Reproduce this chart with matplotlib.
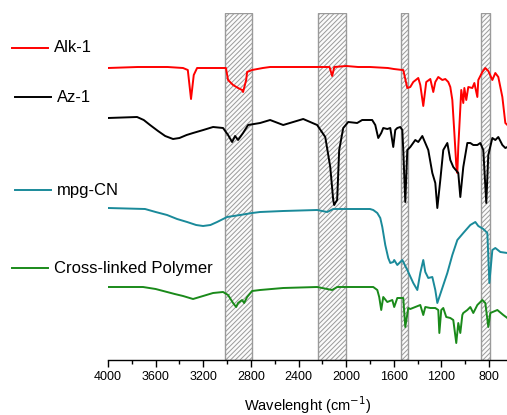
import matplotlib
matplotlib.use("Agg")
import matplotlib.pyplot as plt
from matplotlib.lines import Line2D
import numpy as np

plt.rcParams['font.family'] = ['Liberation Sans', 'DejaVu Sans']
plt.rcParams['hatch.linewidth'] = 0.7

# ---- data (wavenumber cm^-1, relative transmittance offset) ----
alk_w = [4000, 3750, 3500, 3370, 3330, 3303, 3280, 3252, 3100, 3010, 2992, 2950, 2908, 2874, 2866, 2840,
         2832, 2790, 2700, 2639, 2400, 2244, 2140, 2118, 2100, 2000, 1900, 1800, 1650, 1600, 1529, 1521,
         1487, 1462, 1437, 1395, 1378, 1353, 1328, 1294, 1269, 1252, 1227, 1193, 1168, 1143, 1126, 1109,
         1092, 1076, 1067, 1059, 1034, 1017, 1008, 992, 975, 941, 924, 899, 891, 857, 832, 807, 773, 748,
         723, 689, 664, 647]
alk_t = [347, 348, 348, 347, 345, 316, 340, 347, 347, 347, 335, 330, 327, 325, 323, 335,
         343, 345, 347, 348, 348, 348, 348, 339, 348, 349, 348, 348, 347, 346, 345, 345,
         327, 328, 333, 337, 330, 309, 333, 336, 323, 333, 338, 335, 336, 333, 328, 315,
         282, 250, 242, 268, 325, 312, 327, 315, 328, 327, 332, 318, 335, 343, 347, 344, 335, 342,
         338, 318, 292, 290]

az_w = [4000, 3756, 3700, 3647, 3580, 3520, 3454, 3400, 3340, 3286, 3200, 3118, 3034, 2992, 2958, 2933,
        2908, 2866, 2824, 2723, 2639, 2529, 2361, 2244, 2176, 2134, 2109, 2101, 2092, 2076, 2059, 2025,
        1983, 1908, 1866, 1782, 1756, 1731, 1706, 1689, 1655, 1630, 1605, 1588, 1571, 1546, 1529, 1521,
        1504, 1487, 1462, 1420, 1395, 1361, 1336, 1311, 1277, 1252, 1235, 1210, 1185, 1151, 1126, 1101,
        1059, 1042, 1017, 983, 958, 933, 899, 874, 849, 824, 807, 773, 748, 723, 689, 664, 647]
az_t = [297, 298, 295, 290, 284, 279, 276, 277, 280, 282, 285, 288, 287, 280, 273, 279,
        275, 282, 290, 292, 295, 290, 296, 290, 278, 248, 215, 210, 212, 215, 265, 287,
        293, 292, 295, 295, 290, 277, 282, 287, 286, 287, 268, 285, 287, 288, 285, 265,
        213, 265, 268, 275, 273, 279, 272, 265, 242, 232, 207, 235, 265, 272, 255, 248,
        242, 218, 248, 272, 272, 270, 270, 272, 265, 212, 260, 277, 275, 278, 270, 267, 268]

mpg_w = [4000, 3689, 3600, 3504, 3420, 3336, 3260, 3202, 3140, 3084, 3000, 2891, 2790, 2723, 2529, 2244,
         2160, 2109, 1800, 1773, 1739, 1714, 1697, 1672, 1647, 1630, 1605, 1597, 1571, 1529, 1487, 1437,
         1403, 1378, 1353, 1336, 1311, 1277, 1252, 1235, 1193, 1151, 1109, 1067, 1017, 958, 916, 891, 849,
         815, 798, 773, 748, 706, 647]
mpg_t = [207, 206, 203, 200, 196, 193, 190, 189, 190, 193, 198, 200, 202, 203, 204, 205,
         203, 206, 206, 205, 202, 197, 188, 170, 157, 152, 153, 155, 150, 155, 145, 132,
         125, 142, 155, 143, 137, 138, 125, 112, 127, 142, 160, 175, 182, 190, 193, 189, 186,
         182, 132, 165, 167, 163, 162]

cl_w = [4000, 3706, 3600, 3504, 3440, 3370, 3286, 3202, 3118, 3034, 2992, 2950, 2924, 2908, 2874, 2857,
        2832, 2790, 2723, 2529, 2244, 2118, 2076, 1773, 1739, 1723, 1706, 1689, 1655, 1613, 1597, 1571,
        1521, 1504, 1479, 1462, 1420, 1378, 1353, 1336, 1294, 1252, 1227, 1218, 1202, 1185, 1160, 1126,
        1101, 1076, 1059, 1042, 1025, 1017, 983, 958, 933, 899, 857, 832, 807, 790, 731, 681, 647]
cl_t = [128, 128, 126, 123, 121, 119, 116, 119, 122, 123, 120, 112, 108, 112, 115, 112,
        118, 124, 125, 127, 128, 125, 128, 128, 125, 118, 105, 118, 113, 115, 108, 117,
        117, 88, 107, 106, 108, 110, 100, 108, 107, 107, 105, 82, 105, 107, 98, 97,
        95, 72, 92, 82, 100, 102, 105, 108, 102, 110, 115, 112, 88, 102, 105, 100, 97]

bands = [(3020, 2795), (2240, 2000), (1540, 1478), (868, 792)]
xticks = [4000, 3600, 3200, 2800, 2400, 2000, 1600, 1200, 800]

series = [
    ("Alk-1", alk_w, alk_t, "#ff0000"),
    ("Az-1", az_w, az_t, "#000000"),
    ("mpg-CN", mpg_w, mpg_t, "#1a8a9a"),
    ("Cross-linked Polymer", cl_w, cl_t, "#1a8a1a"),
]

fig = plt.figure(figsize=(5.07, 4.15), dpi=100)
ax = fig.add_axes([108 / 507, 1 - 360 / 415, 1 - 108 / 507, (360 - 13) / 415])

for lo, hi in bands:
    ax.axvspan(hi, lo, facecolor="#fbfbfb", edgecolor="#9a9a9a", hatch="///////", linewidth=1.0, zorder=1)

for name, w, t, c in series:
    ax.plot(w, t, color=c, lw=1.4, zorder=3, solid_joinstyle="round")

ax.set_xlim(4000, 650)
ax.set_ylim(415 - 360, 415 - 13)
ax.set_xticks(xticks)
ax.set_xticks(np.arange(3800, 650, -400), minor=True)
ax.tick_params(axis="x", which="major", direction="out", length=5, width=1, labelsize=9, pad=3)
ax.tick_params(axis="x", which="minor", direction="out", length=3, width=1)
ax.set_yticks([])
for s in ["left", "right", "top"]:
    ax.spines[s].set_visible(False)
ax.spines["bottom"].set_linewidth(1)
ax.set_xlabel("Wavelenght (cm$^{-1}$)", fontsize=10.5, labelpad=8)

# legend entries placed on left beside each curve
leg_pos = [(12, 48, 54, 48), (15, 97, 57, 97), (15, 190, 57, 190), (12, 268, 54, 268)]
for (name, w, t, c), (x0, y0, tx, ty) in zip(series, leg_pos):
    fig.add_artist(Line2D([x0 / 507, (x0 + 36) / 507], [1 - y0 / 415, 1 - y0 / 415], color=c, lw=1.4))
    fig.text(tx / 507, 1 - ty / 415, name, fontsize=12, va="center", ha="left")

fig.savefig("out.png", dpi=100)
